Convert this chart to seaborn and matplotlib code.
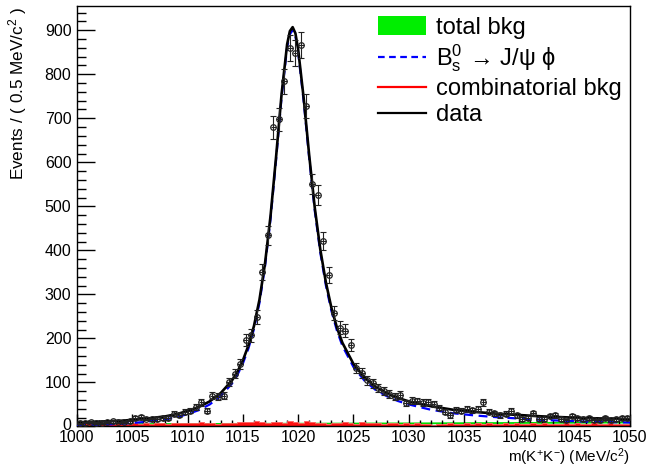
import numpy as np
import pandas as pd
import matplotlib
matplotlib.use("Agg")
import matplotlib.pyplot as plt
from matplotlib.patches import Patch
from matplotlib.lines import Line2D
from matplotlib.transforms import ScaledTranslation
import seaborn as sns

# data histogram: 100 bins of 0.5 MeV between 1000 and 1050
bin_edges = np.arange(1000.0, 1050.01, 0.5)
data_counts = [9, 7, 10, 8, 9, 10, 12, 11, 10, 12,
               20, 22, 18, 16, 17, 20, 19, 29, 26, 33,
               36, 44, 55, 36, 70, 68, 70, 101, 120, 142,
               197, 207, 248, 351, 434, 680, 698, 784, 859, 848,
               866, 728, 551, 525, 422, 344, 258, 224, 217, 186,
               132, 121, 105, 98, 88, 81, 74, 68, 72, 53,
               59, 58, 54, 56, 51, 43, 34, 25, 38, 36,
               40, 37, 40, 55, 34, 30, 25, 29, 35, 25,
               17, 20, 30, 17, 17, 23, 25, 17, 14, 23,
               20, 17, 20, 14, 14, 20, 14, 17, 20, 20]

# combinatorial background histogram (same binning)
comb_counts = [11, 10, 9, 11, 8, 6, 6, 7, 5, 6, 7, 6, 8, 6, 9, 7, 6, 8, 9, 7,
               9, 8, 10, 9, 7, 6, 9, 7, 9, 10, 10, 11, 13, 10, 9, 11, 10, 9, 12, 11,
               9, 13, 10, 7, 9, 6, 8, 9, 11, 7, 6, 10, 8, 9, 7, 6, 9, 7, 6, 8,
               5, 7, 6, 5, 4, 6, 5, 7, 6, 5, 7, 6, 8, 6, 7, 6, 5, 7, 6, 8,
               6, 5, 7, 6, 8, 6, 5, 5, 7, 6, 8, 6, 5, 7, 5, 6, 8, 6, 5, 6]

# fit curves
fit_mass = [1000, 1002, 1004, 1006, 1008, 1009, 1010, 1011, 1012, 1013,
            1014, 1014.5, 1015, 1015.5, 1016, 1016.5, 1017, 1017.5, 1018, 1018.5,
            1019, 1019.25, 1019.5, 1019.75, 1020, 1020.5, 1021, 1021.5, 1022, 1022.5,
            1023, 1023.5, 1024, 1025, 1026, 1027, 1028, 1029, 1030, 1032,
            1034, 1036, 1038, 1040, 1042, 1044, 1046, 1048, 1050]
fit_total = [9, 11, 13, 17, 23, 28, 35, 44, 57, 76,
             104, 124, 150, 184, 228, 288, 370, 478, 612, 755,
             868, 898, 907, 893, 856, 745, 615, 497, 402, 328,
             270, 225, 190, 142, 111, 90, 76, 65, 57, 46,
             38, 33, 29, 26, 23, 21, 19, 18, 17]
fit_signal = [2, 4, 6, 10, 16, 21, 28, 37, 50, 69,
              97, 117, 143, 177, 221, 281, 363, 471, 605, 748,
              861, 891, 900, 886, 849, 738, 608, 490, 395, 321,
              263, 218, 183, 135, 104, 83, 69, 58, 50, 38,
              30, 25, 21, 18, 15, 13, 11, 10, 9]
bkg_mass = [1000, 1030, 1050]
bkg_total = [5, 7, 9]

plt.rcParams["font.family"] = ["Liberation Sans", "DejaVu Sans"]
plt.rcParams["mathtext.fontset"] = "custom"
plt.rcParams["mathtext.rm"] = "Liberation Sans"
plt.rcParams["mathtext.it"] = "Liberation Sans:italic"

fig = plt.figure(figsize=(6.49, 4.70), dpi=100)
ax = fig.add_axes([0.1186, 0.0926, 0.9707 - 0.1186, 0.9872 - 0.0926])

centers = 0.5 * (bin_edges[:-1] + bin_edges[1:])
df = pd.DataFrame({"mass": centers, "data": data_counts, "comb": comb_counts})

# total background (green)
ax.plot(bkg_mass, bkg_total, color="#00dd00", lw=1.3, zorder=1)

# combinatorial background histogram (red)
sns.histplot(data=df, x="mass", weights="comb", binwidth=0.5, binrange=(1000, 1050),
             element="step", fill=True, color="#ff1010", alpha=1.0, lw=0.6,
             edgecolor="#ff6060", ax=ax, zorder=2)

# fit components
fits = pd.DataFrame({"mass": fit_mass, "total": fit_total, "signal": fit_signal})
sns.lineplot(data=fits, x="mass", y="signal", color="blue", lw=1.6,
             linestyle=(0, (4, 2.5)), ax=ax, zorder=3)
sns.lineplot(data=fits, x="mass", y="total", color="black", lw=1.9, ax=ax, zorder=4)

# data points
yerr = np.sqrt(df["data"].to_numpy())
ax.errorbar(df["mass"], df["data"], yerr=yerr, fmt="none", ecolor="#222222",
            elinewidth=0.8, capsize=2.0, capthick=0.8, zorder=5)
ax.errorbar(df["mass"], df["data"], xerr=0.25, fmt="o", ms=4.0, mfc="none",
            mec="#222222", mew=0.9, ecolor="#222222", elinewidth=0.8, zorder=5)

ax.set_xlim(1000, 1050)
ax.set_ylim(0, 955)
ax.set_xlabel("")
ax.set_ylabel("")
ax.set_xticks(np.arange(1000, 1051, 5))
ax.set_xticks(np.arange(1000, 1051, 1), minor=True)
ax.set_yticks(np.arange(0, 901, 100))
ax.set_yticks(np.arange(0, 951, 20), minor=True)
ax.tick_params(axis="both", which="both", direction="in", top=False, right=False,
               labelsize=11.5, width=1.0, color="black")
ax.tick_params(axis="y", which="major", length=13, pad=4)
ax.tick_params(axis="y", which="minor", length=6.5)
ax.tick_params(axis="x", which="major", length=9, pad=2.5)
ax.tick_params(axis="x", which="minor", length=4.5)
for sp in ax.spines.values():
    sp.set_linewidth(1.0)
    sp.set_color("black")
# nudge the "0" label up 2 px so it clears "1000"
zero_label = ax.get_yticklabels()[0]
zero_label.set_transform(zero_label.get_transform()
                         + ScaledTranslation(0, 2 / 100, fig.dpi_scale_trans))

fig.text(0.027, 0.985, "Events / ( 0.5 MeV/c$^{2}$ )", rotation=90,
         ha="center", va="top", fontsize=12.3)
fig.text(0.9707, 0.004, "m(K$^{+}$K$^{-}$) (MeV/c$^{2}$)", ha="right",
         va="bottom", fontsize=11.0)

handles = [Patch(facecolor="#00ee00", edgecolor="none"),
           Line2D([], [], color="blue", lw=1.6, linestyle=(0, (3, 2))),
           Line2D([], [], color="red", lw=1.6),
           Line2D([], [], color="black", lw=1.6)]
labels = ["total bkg", r"B$_\mathregular{s}^\mathregular{0}\,\rightarrow\,$J/ψ ϕ",
          "combinatorial bkg", "data"]
ax.legend(handles, labels, loc="upper left", bbox_to_anchor=(0.582, 0.965),
          bbox_transform=fig.transFigure, frameon=False, borderpad=0,
          handlelength=2.05, handleheight=0.8, handletextpad=0.4,
          labelspacing=0.16, fontsize=17, borderaxespad=0)

fig.savefig("out.png", dpi=100)
